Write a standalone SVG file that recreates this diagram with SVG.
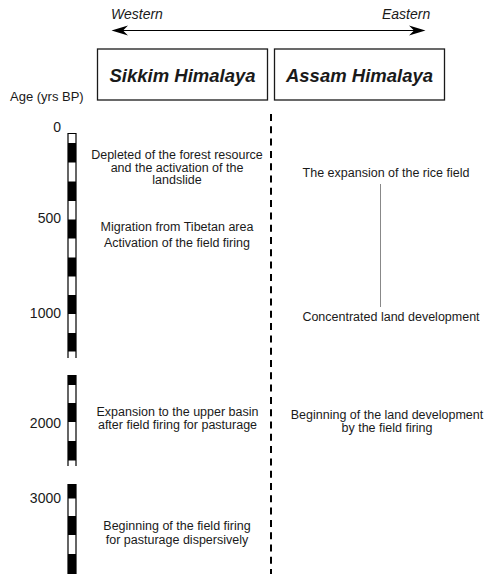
<svg xmlns="http://www.w3.org/2000/svg" width="487" height="574" viewBox="0 0 487 574">
<style>
text{font-family:"Liberation Sans",Arial,sans-serif;fill:#1a1a1a}
.lbl{font-size:12.5px;text-anchor:middle}
.num{font-size:14px;text-anchor:end}
.hdr{font-size:18.5px;font-weight:bold;font-style:italic;text-anchor:middle}
.dir{font-size:14px;font-style:italic}
.box{fill:#fff;stroke:#1a1a1a;stroke-width:1.3}
.bar{fill:none;stroke:#000;stroke-width:1.2}
.blk{fill:#000}
</style>
<rect width="487" height="574" fill="#fff"/>
<g id="direction">
<text class="dir" x="111" y="19">Western</text>
<text class="dir" x="382" y="19">Eastern</text>
<line x1="120" y1="30.5" x2="417" y2="30.5" stroke="#000" stroke-width="1.2"/>
<path d="M111.5,30.5 L128,25.5 L123,30.5 L128,35.5 Z" fill="#000"/>
<path d="M425.5,30.5 L409,25.5 L414,30.5 L409,35.5 Z" fill="#000"/>
</g>
<g id="sikkim">
<rect class="box" x="97.5" y="49" width="170" height="51"/>
<text class="hdr" x="182.5" y="82">Sikkim Himalaya</text>
</g>
<g id="assam">
<rect class="box" x="274.5" y="49" width="170" height="51"/>
<text class="hdr" x="359.5" y="82">Assam Himalaya</text>
</g>
<g id="axis">
<text x="10" y="101" style="font-size:13px">Age (yrs BP)</text>
<text class="num" x="61" y="132">0</text>
<text class="num" x="61" y="223">500</text>
<text class="num" x="61" y="318">1000</text>
<text class="num" x="61" y="428">2000</text>
<text class="num" x="61" y="503">3000</text>
<g id="bar1">
<rect class="blk" x="68" y="143" width="8" height="19.5"/>
<rect class="blk" x="68" y="181.5" width="8" height="19.5"/>
<rect class="blk" x="68" y="219.5" width="8" height="19"/>
<rect class="blk" x="68" y="257.5" width="8" height="19"/>
<rect class="blk" x="68" y="295" width="8" height="19"/>
<rect class="blk" x="68" y="333" width="8" height="18.5"/>
<path class="bar" d="M68,358 V133.5 H76 V358"/>
</g>
<g id="bar2">
<rect class="blk" x="68" y="375" width="8" height="10"/>
<rect class="blk" x="68" y="403" width="8" height="19"/>
<rect class="blk" x="68" y="441" width="8" height="19.5"/>
<path class="bar" d="M68,466 V375.5 H76 V466"/>
</g>
<g id="bar3">
<rect class="blk" x="68" y="484" width="8" height="14.5"/>
<rect class="blk" x="68" y="516" width="8" height="19"/>
<rect class="blk" x="68" y="554" width="8" height="20"/>
<path class="bar" d="M68,574 V484.5 H76 V574"/>
</g>
</g>
<g id="connectors">
<line x1="271" y1="114" x2="271" y2="574" stroke="#000" stroke-width="2" stroke-dasharray="7 5.3"/>
<line x1="380.5" y1="184" x2="380.5" y2="307" stroke="#888" stroke-width="1"/>
</g>
<g id="s1">
<text class="lbl" x="177" y="159">Depleted of the forest resource</text>
<text class="lbl" x="177" y="171.5">and the activation of the</text>
<text class="lbl" x="177" y="184">landslide</text>
</g>
<g id="s2">
<text class="lbl" x="177" y="231">Migration from Tibetan area</text>
</g>
<g id="s3">
<text class="lbl" x="177" y="247">Activation of the field firing</text>
</g>
<g id="s4">
<text class="lbl" x="177.5" y="416">Expansion to the upper basin</text>
<text class="lbl" x="177.5" y="429">after field firing for pasturage</text>
</g>
<g id="s5">
<text class="lbl" x="177" y="530">Beginning of the field firing</text>
<text class="lbl" x="177" y="543.5">for pasturage dispersively</text>
</g>
<g id="a1">
<text class="lbl" x="386" y="177">The expansion of the rice field</text>
</g>
<g id="a2">
<text class="lbl" x="391" y="321">Concentrated land development</text>
</g>
<g id="a3">
<text class="lbl" x="387" y="419">Beginning of the land development</text>
<text class="lbl" x="387" y="432">by the field firing</text>
</g>
</svg>
